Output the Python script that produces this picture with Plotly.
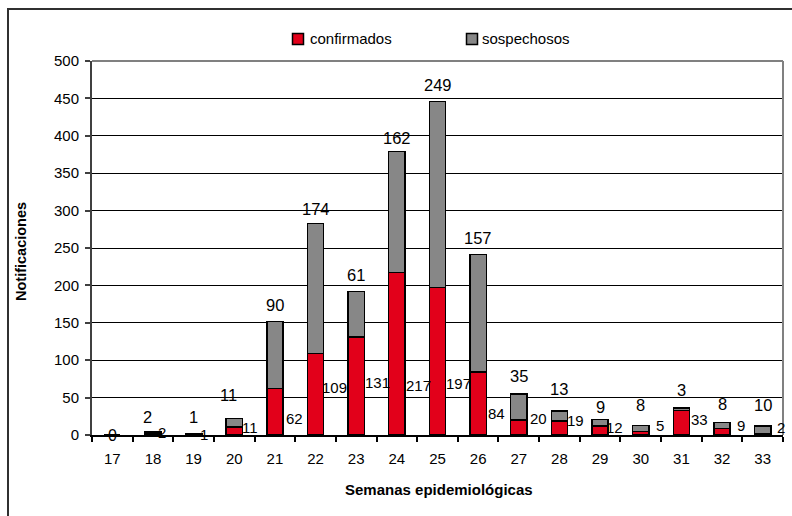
import plotly.graph_objects as go

# Weekly notifications by epidemiological week
weeks = [str(w) for w in range(17, 34)]
confirmados = [0, 2, 1, 11, 62, 109, 131, 217, 197, 84, 20, 19, 12, 5, 33, 9, 2]
sospechosos = [0, 2, 1, 11, 90, 174, 61, 162, 249, 157, 35, 13, 9, 8, 3, 8, 10]
y_ticks = list(range(0, 501, 50))

# Label placement (pixels): confirmed labels sit to the right of each bar,
# suspected labels float above the stacked total.
conf_dx = [0, 3, 4, 6, 9, 4, 7, 7, 6, 8, 9, 6, 4, 13, 8, 13, 12]
conf_dy = [0, 3, 1, 8, 17, 48, 53, 50, 52, 22, 17, 15, 8, 10, 16, 10, 8]
susp_dx = [0, -5, 0, -6, 0, 0, 0, 0, 0, 0, 0, 0, 0, 0, 0, 0, 0]
susp_dy = [0, 15, 17, 24, 16, 14, 16, 14, 16, 17, 18, 22, 12, 20, 18, 18, 21]

RED = "#E2001A"
GRAY = "#878787"
FONT = "Liberation Sans, Arial, sans-serif"

W, H = 792, 516
L, R, T, B = 92, 9, 61, 81
PW = W - L - R
PH = H - T - B


def px(x):
    return (x - L) / PW


def py(y):
    return (H - B - y) / PH


fig = go.Figure()
fig.add_trace(go.Bar(
    x=weeks, y=confirmados, name="confirmados", width=0.4,
    marker=dict(color=RED, line=dict(color="black", width=1.5)),
    hoverinfo="skip",
))
fig.add_trace(go.Bar(
    x=weeks, y=sospechosos, name="sospechosos", width=0.4,
    marker=dict(color=GRAY, line=dict(color="black", width=1.5)),
    hoverinfo="skip",
))

annotations = []
for i, wk in enumerate(weeks):
    c, s = confirmados[i], sospechosos[i]
    # category axes place annotations by serial index
    if c == 0 and s == 0:
        annotations.append(dict(
            x=i, y=0, text="0", showarrow=False, xanchor="center",
            yanchor="middle", font=dict(size=16, color="black", family=FONT)))
        continue
    annotations.append(dict(
        x=i, y=0, text=str(c), showarrow=False, xanchor="left",
        yanchor="middle", xshift=conf_dx[i], yshift=conf_dy[i],
        font=dict(size=15, color="black", family=FONT)))
    annotations.append(dict(
        x=i, y=c + s, text=str(s), showarrow=False, xanchor="center",
        yanchor="middle", xshift=susp_dx[i], yshift=susp_dy[i],
        font=dict(size=16.5, color="black", family=FONT)))

# Axis titles
annotations.append(dict(
    x=px(439), y=py(490), xref="paper", yref="paper", text="<b>Semanas epidemiológicas</b>",
    showarrow=False, xanchor="center", yanchor="middle",
    font=dict(size=15, color="black", family=FONT)))
annotations.append(dict(
    x=px(21), y=py(252), xref="paper", yref="paper", text="<b>Notificaciones</b>",
    showarrow=False, xanchor="center", yanchor="middle", textangle=-90,
    font=dict(size=14.5, color="black", family=FONT)))

# Legend entries
annotations.append(dict(
    x=px(308), y=py(38.5), xref="paper", yref="paper", text="confirmados",
    showarrow=False, xanchor="left", yanchor="middle",
    font=dict(size=15, color="black", family=FONT)))
annotations.append(dict(
    x=px(480), y=py(38.5), xref="paper", yref="paper", text="sospechosos",
    showarrow=False, xanchor="left", yanchor="middle",
    font=dict(size=15, color="black", family=FONT)))

shapes = [
    # legend swatches
    dict(type="rect", xref="paper", yref="paper", x0=px(292.5), x1=px(303.5),
         y0=py(44.5), y1=py(33.5), fillcolor=RED, line=dict(color="black", width=1.5)),
    dict(type="rect", xref="paper", yref="paper", x0=px(466.5), x1=px(477.5),
         y0=py(44.5), y1=py(33.5), fillcolor=GRAY, line=dict(color="black", width=1.5)),
    # plot area border (top and right)
    dict(type="line", xref="paper", yref="paper", x0=0, x1=1, y0=1, y1=1,
         line=dict(color="#808080", width=2), layer="above"),
    dict(type="line", xref="paper", yref="paper", x0=1, x1=1, y0=0, y1=1,
         line=dict(color="#808080", width=2), layer="above"),
    # outer chart frame
    dict(type="rect", xref="paper", yref="paper", x0=px(8), x1=px(820),
         y0=py(560), y1=py(9), line=dict(color="#303030", width=2), layer="above"),
]

fig.update_layout(
    width=W, height=H,
    margin=dict(l=L, r=R, t=T, b=B, pad=0),
    paper_bgcolor="white", plot_bgcolor="white",
    barmode="stack", showlegend=False,
    font=dict(family=FONT, color="black"),
    annotations=annotations, shapes=shapes,
    xaxis=dict(
        type="category", categoryorder="array", categoryarray=weeks,
        range=[-0.5, len(weeks) - 0.5],
        ticks="outside", tickson="boundaries", ticklen=5, tickwidth=1.5,
        tickcolor="black", showline=True, linecolor="black", linewidth=1.5,
        showgrid=False, tickfont=dict(size=15, color="black", family=FONT),
        ticklabelstandoff=9,
    ),
    yaxis=dict(
        range=[0, 500], tickvals=y_ticks, ticks="outside", ticklen=5,
        tickwidth=1.5, tickcolor="#404040", showline=True, linecolor="#404040",
        linewidth=2, showgrid=True, gridcolor="black", gridwidth=1,
        zeroline=False, tickfont=dict(size=15, color="black", family=FONT),
        ticklabelstandoff=3,
    ),
)

fig.write_html("out.html", config={"displayModeBar": False})
